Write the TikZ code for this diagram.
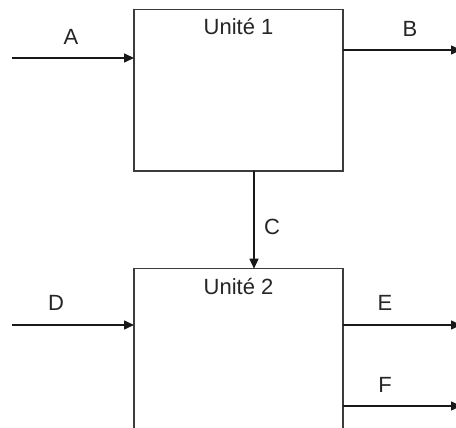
\documentclass[tikz,border=0pt]{standalone}
\usepackage{fontspec}
\setmainfont{Liberation Sans}
\usetikzlibrary{arrows.meta}
\definecolor{boxgray}{RGB}{60,60,60}
\begin{document}
\begin{tikzpicture}[x=1pt,y=1pt,
  unit/.style={draw=boxgray,line width=1.6pt},
  flow/.style={draw=black!90,line width=1.5pt,-{Triangle[length=10pt,width=9pt]}},
  lbl/.style={anchor=base,inner sep=0pt,font=\fontsize{22}{26}\selectfont,text=black!85}]
  \useasboundingbox (0,0) rectangle (456,428);
  \clip (0,0) rectangle (456,428);
  \fill[white] (0,0) rectangle (456,428);

  % process units
  \draw[unit] (134,418.5) rectangle (343,257);
  \draw[unit] (134,-20) -- (134,159.3) -- (343,159.3) -- (343,-20);
  \coordinate (u1w) at (134,370);
  \coordinate (u1e) at (343,378);
  \coordinate (u1s) at (254,257);
  \coordinate (u2n) at (254,159.3);
  \coordinate (u2w) at (134,103);
  \coordinate (u2e1) at (343,103);
  \coordinate (u2e2) at (343,22);

  \node[lbl] (t1) at (238.5,393) {Unité 1};
  \node[lbl] (t2) at (238.5,133) {Unité 2};

  % free ends of the streams
  \coordinate (ain) at (12,370);
  \coordinate (bout) at (461,378);
  \coordinate (din) at (12,103);
  \coordinate (eout) at (461,103);
  \coordinate (fout) at (461,22);

  % streams
  \draw[flow] (ain) -- (u1w);
  \draw[flow] (u1e) -- (bout);
  \draw[flow] (u1s) -- (u2n);
  \draw[flow] (din) -- (u2w);
  \draw[flow] (u2e1) -- (eout);
  \draw[flow] (u2e2) -- (fout);

  % stream labels
  \node[lbl] (la) at (71,383) {A};
  \node[lbl] (lb) at (410,391) {B};
  \node[lbl] (lc) at (272,193) {C};
  \node[lbl] (ld) at (56,117) {D};
  \node[lbl] (le) at (385,117) {E};
  \node[lbl] (lf) at (385,35) {F};
\end{tikzpicture}
\end{document}
